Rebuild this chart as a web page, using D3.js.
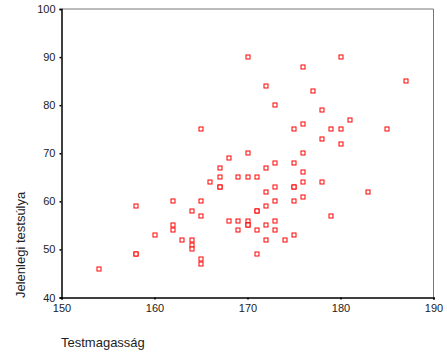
<!DOCTYPE html>
<html><head><meta charset="utf-8">
<script src="https://cdn.jsdelivr.net/npm/d3@7"></script>
<style>body{margin:0;background:#fff}</style>
</head><body>
<svg id="c" width="447" height="354"></svg>
<script>
const heights = [154,158,158,158,160,162,162,162,163,164,164,164,164,165,165,165,165,165,166,167,167,167,167,168,168,169,169,169,170,170,170,170,170,170,171,171,171,171,171,172,172,172,172,172,172,173,173,173,173,173,173,174,175,175,175,175,175,175,176,176,176,176,176,176,177,178,178,178,179,179,180,180,180,181,183,185,187];
const weights = [46,59,49,49,53,60,55,54,52,58,52,51,50,75,60,57,48,47,64,67,65,63,63,69,56,65,56,54,90,70,65,56,55,55,65,58,58,54,49,84,67,62,59,55,52,80,68,63,60,56,54,52,75,68,63,63,60,53,88,76,70,66,64,61,83,79,73,64,75,57,90,75,72,77,62,75,85];
const xTicks = [150,160,170,180,190];
const yTicks = [40,50,60,70,80,90,100];
const xTitle = "Testmagasság";
const yTitle = "Jelenlegi testsúlya";

const svg = d3.select("#c");
const L = 61.5, R = 433.5, T = 9, B = 297.5;
const x = d3.scaleLinear().domain([150,190]).range([L,R]);
const y = d3.scaleLinear().domain([40,100]).range([B,T]);
const font = "Liberation Sans, Arial, sans-serif";

// frame top/right
svg.append("line").attr("x1",L).attr("x2",R).attr("y1",T).attr("y2",T).attr("stroke","#777").attr("stroke-width",1);
svg.append("line").attr("x1",R).attr("x2",R).attr("y1",T).attr("y2",B).attr("stroke","#777").attr("stroke-width",1);

const xa = svg.append("g").attr("transform",`translate(0,${B})`)
  .call(d3.axisBottom(x).tickValues(xTicks).tickSize(2).tickPadding(4));
const ya = svg.append("g").attr("transform",`translate(${L},0)`)
  .call(d3.axisLeft(y).tickValues(yTicks).tickSize(2).tickPadding(4));
[xa,ya].forEach(a=>{
  a.select(".domain").attr("stroke","#000").attr("stroke-width",1.5);
  a.selectAll(".tick line").attr("stroke","#000").attr("stroke-width",1.5);
  a.selectAll(".tick text").attr("font-family",font).attr("font-size",11).attr("fill","#222");
});
xa.selectAll(".tick text").attr("dy","0.75em");

svg.append("g").selectAll("rect").data(heights.map((h,i)=>[h,weights[i]])).join("rect")
  .attr("x",d=>Math.round(x(d[0]))-2).attr("y",d=>Math.round(y(d[1]))-2)
  .attr("width",4).attr("height",4)
  .attr("fill","#fff").attr("stroke","#ff0000").attr("stroke-width",1);

svg.append("text").attr("x",61).attr("y",347).attr("font-family",font).attr("font-size",13).attr("fill","#222").text(xTitle);
svg.append("text").attr("transform","translate(25,298) rotate(-90)").attr("font-family",font).attr("font-size",13).attr("fill","#222").text(yTitle);
</script>
</body></html>
